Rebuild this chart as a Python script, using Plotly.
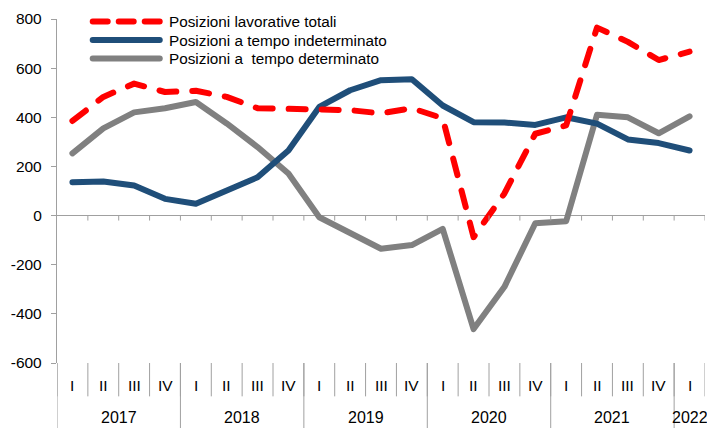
import plotly.graph_objects as go

quarters = ["I", "II", "III", "IV"] * 5 + ["I"]
years = ["2017", "2018", "2019", "2020", "2021", "2022"]
year_centers = [1.5, 5.5, 9.5, 13.5, 17.5, 20]
y_ticks = [-600, -400, -200, 0, 200, 400, 600, 800]
y_ticktext = ["-600", "-400", "-200", "0", "200", "400", "600", "800"]

series_names = ["Posizioni lavorative totali",
                "Posizioni a tempo indeterminato",
                "Posizioni a  tempo determinato"]
totali = [385, 483, 537, 503, 508, 483, 437, 433, 433, 429, 416, 437,
          396, -88, 90, 333, 367, 765, 707, 633, 667]
indeterminato = [136, 139, 122, 68, 48, 102, 156, 265, 442, 510, 551, 555,
                 448, 380, 379, 369, 400, 374, 310, 295, 265]
determinato = [253, 355, 420, 437, 462, 375, 279, 171, -7, -68, -135, -120,
               -54, -462, -290, -31, -23, 410, 400, 335, 404]

FONT = "Liberation Sans, Arial, sans-serif"
RED = "#FF0000"
BLUE = "#1F4E79"
GRAY = "#808080"
AXIS = "#A0A0A0"

# plot-area geometry in pixels
L, R, T, B = 57.3, 705.0, 19.3, 362.7
W, H = 707, 428


def px_x(px):
    return (px - L) / (R - L)


def px_y(py):
    return (B - py) / (B - T)


x = list(range(len(quarters)))

fig = go.Figure()
fig.add_trace(go.Scatter(x=x, y=determinato, mode="lines", name=series_names[2],
                         line=dict(color=GRAY, width=6)))
fig.add_trace(go.Scatter(x=x, y=indeterminato, mode="lines", name=series_names[1],
                         line=dict(color=BLUE, width=6)))
fig.add_trace(go.Scatter(x=x, y=totali, mode="lines", name=series_names[0],
                         line=dict(color=RED, width=6, dash="17px,16px")))

shapes = []
annotations = []

n = len(quarters)
# quarter dividers
for i in range(n + 1):
    xb = i - 0.5
    shapes.append(dict(type="line", xref="x", yref="paper", x0=xb, x1=xb,
                       y0=px_y(362.7), y1=px_y(396), line=dict(color=AXIS, width=1)))
# small ticks on zero line
for i in range(1, n + 1):
    xb = i - 0.5
    shapes.append(dict(type="line", xref="x", yref="paper", x0=xb, x1=xb,
                       y0=px_y(215.5), y1=px_y(220.5), line=dict(color=AXIS, width=1)))
# year dividers
for b in [-0.5, 3.5, 7.5, 11.5, 15.5, 19.5]:
    shapes.append(dict(type="line", xref="x", yref="paper", x0=b, x1=b,
                       y0=px_y(362.7), y1=px_y(430), line=dict(color=AXIS, width=1)))

for i, q in enumerate(quarters):
    annotations.append(dict(x=i, y=px_y(385), xref="x", yref="paper", text=q,
                            showarrow=False, xanchor="center", yanchor="middle",
                            font=dict(family=FONT, size=15.5, color="black")))
for yc, yr in zip(year_centers, years):
    annotations.append(dict(x=yc, y=px_y(417), xref="x", yref="paper", text=yr,
                            showarrow=False, xanchor="center", yanchor="middle",
                            font=dict(family=FONT, size=16, color="black")))

# manual legend
leg_rows = [21.7, 40.3, 58.8]
leg_styles = [dict(color=RED, width=6, dash="15px,11px"),
              dict(color=BLUE, width=6),
              dict(color=GRAY, width=6)]
for yy, st, nm in zip(leg_rows, leg_styles, series_names):
    shapes.append(dict(type="line", xref="paper", yref="paper",
                       x0=px_x(93), x1=px_x(160), y0=px_y(yy), y1=px_y(yy),
                       line=st))
    annotations.append(dict(x=px_x(167), y=px_y(yy), xref="paper", yref="paper",
                            text=nm, showarrow=False, xanchor="left", yanchor="middle",
                            font=dict(family=FONT, size=15.3, color="black")))

fig.update_layout(
    width=W, height=H,
    margin=dict(l=L, r=W - R, t=T, b=H - B, pad=0),
    paper_bgcolor="white", plot_bgcolor="white",
    showlegend=False,
    font=dict(family=FONT, size=15, color="black"),
    xaxis=dict(range=[-0.5, n - 0.5], showgrid=False, zeroline=False,
               showticklabels=False, ticks="", showline=False, fixedrange=True),
    yaxis=dict(range=[-600, 800], tickmode="array", tickvals=y_ticks, ticktext=y_ticktext,
               showgrid=False, zeroline=True, zerolinecolor=AXIS, zerolinewidth=1.3,
               showline=True, linecolor=AXIS, linewidth=1.3,
               ticks="outside", ticklen=5, tickcolor=AXIS, tickwidth=1.3,
               tickfont=dict(family=FONT, size=15.5, color="black"),
               ticklabelstandoff=6, fixedrange=True),
    shapes=shapes, annotations=annotations,
)

post = """
document.body.style.margin='0';
document.body.style.padding='0';
document.querySelectorAll('.scatterlayer .js-line').forEach(function(p){
  p.style.strokeLinecap='round'; p.style.strokeLinejoin='round';
});
document.querySelectorAll('.shapelayer path').forEach(function(p){
  var w = parseFloat(p.style.strokeWidth || '0');
  if (w >= 5) { p.style.strokeLinecap='round'; }
});
"""

fig.write_html("out.html", post_script=post, config={"displayModeBar": False})
